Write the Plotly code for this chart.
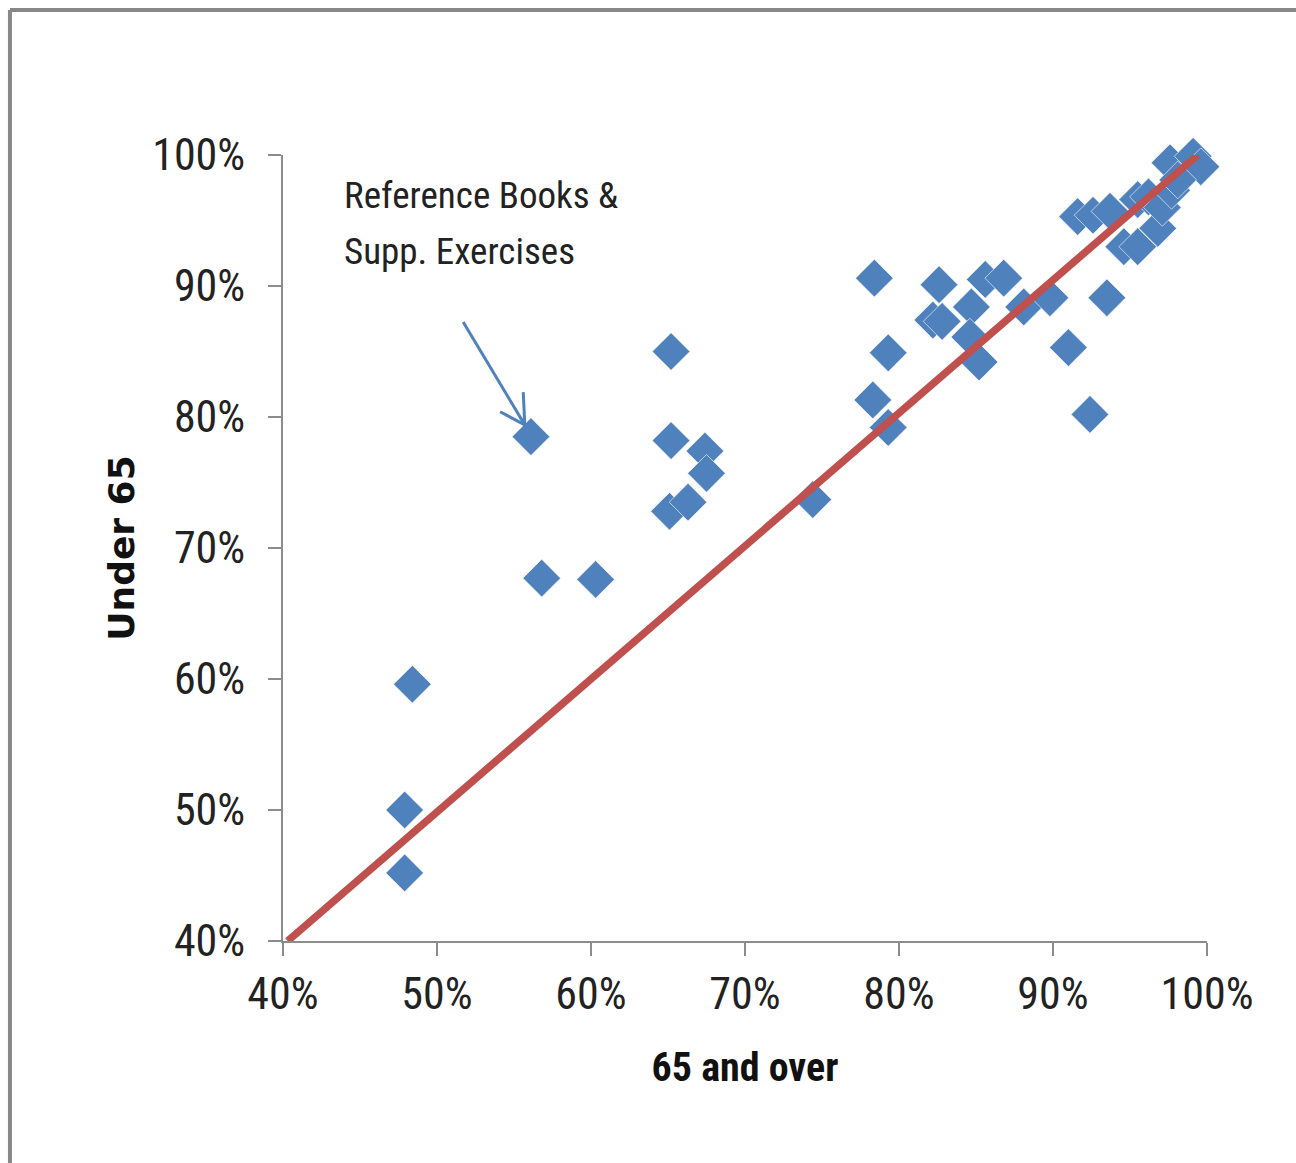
import plotly.graph_objects as go

# Data (percent values)
over65 = [47.9, 47.9, 48.4, 56.1, 56.8, 60.3, 65.2, 65.2, 65.1, 66.3, 67.4, 67.5,
          74.4, 78.4, 79.3, 78.3, 79.3, 82.6, 82.2, 82.8, 84.7, 84.6, 85.2, 85.6,
          86.8, 88.1, 89.8, 91.0, 92.4, 93.5, 91.6, 92.6, 93.7, 94.6, 95.5, 95.5,
          96.2, 96.8, 97.1, 97.7, 97.6, 98.4, 99.1, 99.6, 98.1]
under65 = [50.0, 45.2, 59.6, 78.5, 67.7, 67.6, 85.0, 78.2, 72.8, 73.5, 77.4, 75.7,
           73.7, 90.6, 84.9, 81.3, 79.2, 90.1, 87.4, 87.3, 88.4, 86.1, 84.2, 90.5,
           90.6, 88.4, 89.1, 85.3, 80.2, 89.1, 95.3, 95.4, 95.7, 93.0, 93.0, 96.6,
           96.8, 94.4, 96.0, 97.3, 99.4, 100.1, 99.9, 99.1, 98.1]

line_x = [40.3, 99.4]
line_y = [40.0, 100.0]

tick_vals = [40, 50, 60, 70, 80, 90, 100]
tick_text = ["40%", "50%", "60%", "70%", "80%", "90%", "100%"]

annot_lines = ["Reference Books &", "Supp. Exercises"]
annot_y = [96.9, 92.6]
arrow_start = (51.7, 87.25)
arrow_tip = (55.7, 79.4)
arrow_wing1 = (54.1, 80.4)
arrow_wing2 = (55.6, 81.9)

NARROW = "Liberation Sans Narrow, Arial Narrow, Roboto Condensed, sans-serif"
BLUE = "#4F81BD"
RED = "#C0504D"
AXIS = "#8C8C8C"

fig = go.Figure()
fig.add_trace(go.Scatter(
    x=over65, y=under65, mode="markers",
    marker=dict(symbol="diamond", size=29, color=BLUE,
                line=dict(color="rgba(255,255,255,0.6)", width=1)),
    cliponaxis=False, showlegend=False))
fig.add_trace(go.Scatter(
    x=line_x, y=line_y, mode="lines",
    line=dict(color=RED, width=7.5), cliponaxis=False, showlegend=False))

# arrow
for (x0, y0) in [arrow_start, arrow_wing1, arrow_wing2]:
    fig.add_shape(type="line", xref="x", yref="y", x0=x0, y0=y0,
                  x1=arrow_tip[0], y1=arrow_tip[1],
                  line=dict(color=BLUE, width=3))

# frame (top and left edges visible)
fig.add_shape(type="line", xref="paper", yref="paper", x0=-0.2955, x1=1.1,
              y0=1.1845, y1=1.1845, line=dict(color="#888888", width=4))
fig.add_shape(type="line", xref="paper", yref="paper", x0=-0.2955, x1=-0.2955,
              y0=1.1845, y1=-0.3, line=dict(color="#888888", width=4))

for txt, yv in zip(annot_lines, annot_y):
    fig.add_annotation(x=43.8, y=yv, xref="x", yref="y", text=txt,
                       showarrow=False, xanchor="left", yanchor="middle", align="left",
                       font=dict(family=NARROW, size=37, color="#222222"))

fig.update_xaxes(range=[40, 100], tickvals=tick_vals, ticktext=tick_text,
                 showgrid=False, zeroline=False, showline=True, linecolor=AXIS,
                 linewidth=2, ticks="outside", ticklen=13, tickcolor=AXIS, tickwidth=2,
                 tickfont=dict(family=NARROW, size=44, color="#222222"),
                 title=dict(text="<b>65 and over</b>", standoff=34,
                            font=dict(family=NARROW, size=40, color="#111111")))
fig.update_yaxes(range=[40, 100], tickvals=tick_vals, ticktext=tick_text,
                 showgrid=False, zeroline=False, showline=True, linecolor=AXIS,
                 linewidth=2, ticks="outside", ticklen=13, tickcolor=AXIS, tickwidth=2,
                 ticklabelstandoff=14,
                 tickfont=dict(family=NARROW, size=44, color="#222222"),
                 title=dict(text="<b>Under 65</b>", standoff=7,
                            font=dict(family="DejaVu Sans, Verdana, sans-serif", size=36,
                                      color="#111111")))

fig.update_layout(width=1296, height=1163, paper_bgcolor="white", plot_bgcolor="white",
                  margin=dict(l=283, r=89, t=155, b=222, autoexpand=False),
                  showlegend=False)

fig.write_html("out.html")
